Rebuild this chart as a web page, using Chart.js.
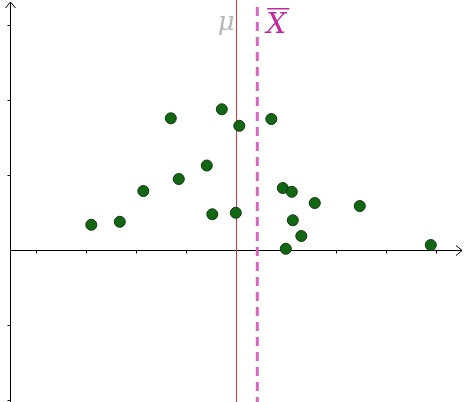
<!DOCTYPE html>
<html>
<head>
<meta charset="utf-8">
<script src="https://cdn.jsdelivr.net/npm/chart.js@4/dist/chart.umd.min.js"></script>
<style>
html,body{margin:0;padding:0;background:#fff;}
#wrap{width:464px;height:402px;position:relative;}
</style>
</head>
<body>
<div id="wrap"><canvas id="c" width="464" height="402"></canvas></div>
<script>
// Data
const xValues = [-2.90, -2.33, -1.86, -1.31, -1.15, -0.59, -0.48, -0.29, -0.01, 0.06, 0.70, 0.93, 1.11, 1.13, 1.30, 0.99, 1.57, 2.47, 3.89];
const yValues = [0.33, 0.37, 0.78, 1.75, 0.94, 1.12, 0.47, 1.87, 0.49, 1.65, 1.74, 0.82, 0.77, 0.39, 0.18, 0.01, 0.62, 0.58, 0.06];
const muValue = 0;
const xBarValue = 0.42;
const xTicks = [-4, -3, -2, -1, 0, 1, 2, 3, 4];
const yTicks = [-2, -1, 0, 1, 2, 3];
const labelMu = 'μ';
const labelXBar = 'X';

const points = xValues.map((x, i) => ({x: x, y: yValues[i]}));

const X_MIN = -4.726, X_MAX = 4.554, Y_MIN = -2.033, Y_MAX = 3.327;
const Y_AXIS_AT = -4.526;

const axesPlugin = {
  id: 'axesPlugin',
  beforeDatasetsDraw(chart) {
    const ctx = chart.ctx;
    const xs = chart.scales.x, ys = chart.scales.y;
    const x0 = Math.round(xs.getPixelForValue(Y_AXIS_AT)) + 0.5;
    const y0 = Math.round(ys.getPixelForValue(0)) + 0.5;
    const right = chart.width - 2;
    const top = 2;
    ctx.save();
    ctx.strokeStyle = '#000';
    ctx.lineWidth = 1;
    // x axis
    ctx.beginPath();
    ctx.moveTo(x0, y0); ctx.lineTo(right, y0);
    ctx.moveTo(right - 6, y0 - 5); ctx.lineTo(right, y0); ctx.lineTo(right - 6, y0 + 5);
    ctx.stroke();
    // y axis
    ctx.beginPath();
    ctx.moveTo(x0, chart.height); ctx.lineTo(x0, top);
    ctx.moveTo(x0 - 5, top + 6); ctx.lineTo(x0, top); ctx.lineTo(x0 + 5, top + 6);
    ctx.stroke();
    // ticks
    ctx.beginPath();
    xTicks.forEach(t => {
      const px = Math.round(xs.getPixelForValue(t)) + 0.5;
      ctx.moveTo(px, y0); ctx.lineTo(px, y0 + 3);
    });
    yTicks.forEach(t => {
      if (t === 0) return;
      const py = Math.round(ys.getPixelForValue(t)) + 0.5;
      ctx.moveTo(x0 - 3, py); ctx.lineTo(x0, py);
    });
    ctx.stroke();
    // mu line
    const mx = xs.getPixelForValue(muValue);
    ctx.strokeStyle = '#e0303a';
    ctx.lineWidth = 1;
    ctx.beginPath();
    ctx.moveTo(Math.round(mx) + 0.5, 0); ctx.lineTo(Math.round(mx) + 0.5, chart.height);
    ctx.stroke();
    // x bar dashed line
    const bx = xs.getPixelForValue(xBarValue);
    ctx.strokeStyle = '#d868bf';
    ctx.lineWidth = 3;
    ctx.setLineDash([9, 6]);
    ctx.beginPath();
    ctx.moveTo(bx, 7); ctx.lineTo(bx, chart.height);
    ctx.stroke();
    ctx.setLineDash([]);
    // labels
    ctx.font = 'italic 26px "DejaVu Serif", "Liberation Serif", serif';
    ctx.fillStyle = '#b8b8b8';
    ctx.textAlign = 'center';
    ctx.textBaseline = 'alphabetic';
    ctx.fillText(labelMu, mx - 10, 30);
    ctx.font = 'italic 28px "DejaVu Serif", "Liberation Serif", serif';
    ctx.fillStyle = '#c2299e';
    ctx.textAlign = 'left';
    ctx.fillText(labelXBar, bx + 9, 33);
    ctx.fillRect(bx + 10, 8, 22, 1.5);
    ctx.restore();
  }
};

new Chart(document.getElementById('c'), {
  type: 'scatter',
  data: {
    datasets: [{
      data: points,
      backgroundColor: '#136613',
      borderColor: '#0a3a0a',
      borderWidth: 1,
      pointRadius: 5.5,
      pointHoverRadius: 5.5
    }]
  },
  options: {
    responsive: false,
    animation: false,
    events: [],
    layout: {padding: 0, autoPadding: false},
    plugins: {legend: {display: false}, tooltip: {enabled: false}},
    scales: {
      x: {type: 'linear', min: X_MIN, max: X_MAX, display: false},
      y: {type: 'linear', min: Y_MIN, max: Y_MAX, display: false}
    }
  },
  plugins: [axesPlugin]
});
</script>
</body>
</html>
